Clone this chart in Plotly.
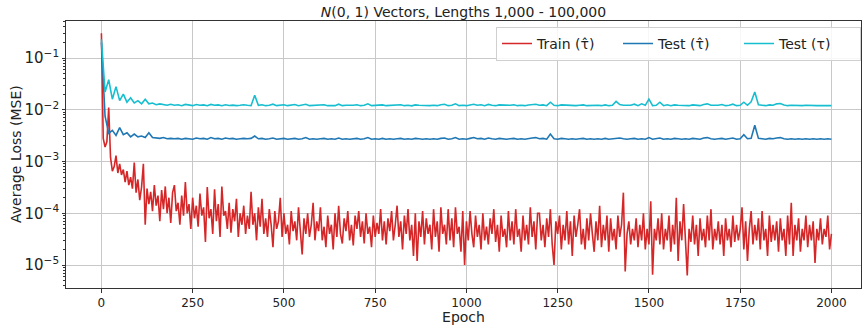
import plotly.graph_objects as go

# ---------------- data ----------------
train_epochs = list(range(0, 2001, 5))
train_loss = [
    3.0e-1, 2.8e-3, 1.9e-3, 2.4e-3, 1.1e-2, 1.2e-3, 6.5e-4, 8e-4, 1.3e-3, 6e-4,
    9e-4, 5.5e-4, 7e-4, 4e-4, 6.5e-4, 3.5e-4, 5e-4, 3e-4, 9.5e-4, 2.5e-4,
    4.5e-4, 1.8e-4, 3.2e-4, 9e-4, 6e-5, 3e-4, 1.5e-4, 2.6e-4, 1.1e-4, 3.5e-4,
    1.4e-4, 2.2e-4, 7e-5, 2.8e-4, 1.2e-4, 3.3e-4, 1.0e-4, 2.0e-4, 6.5e-5, 2.5e-4,
    3.5e-4, 1.1e-4, 1.6e-4, 6e-5, 2.2e-4, 9e-5, 4e-4, 1.0e-4, 1.5e-4, 5e-5,
    2.0e-4, 8e-5, 1.4e-4, 5.5e-5, 2.4e-4, 9e-5, 1.3e-4, 2.8e-5, 3.2e-4, 8e-5,
    1.2e-4, 4e-5, 2.9e-4, 7e-5, 1.5e-4, 3.5e-5, 3.3e-4, 9e-5, 1.1e-4, 5e-5,
    1.6e-4, 4.2e-5, 1.2e-4, 7e-5, 1.9e-4, 3.5e-5, 1.0e-4, 6e-5, 1.4e-4, 4e-5,
    9e-5, 5e-5, 2.6e-4, 6e-5, 1.0e-4, 3.0e-5, 1.3e-4, 5.5e-5, 1.9e-4, 4e-5,
    8e-5, 3.5e-5, 1.2e-4, 6e-5, 2.2e-5, 1.1e-4, 5e-5, 7e-5, 2.0e-4, 3.5e-5,
    1.0e-4, 4e-5, 6e-5, 2.5e-5, 1.1e-4, 4.5e-5, 7e-5, 3e-5, 1.3e-4, 5e-5,
    1.6e-5, 8e-5, 4e-5, 1.0e-4, 3.5e-5, 6e-5, 1.6e-4, 3e-5, 7e-5, 4.5e-5,
    1.3e-4, 3e-5, 5.5e-5, 2.2e-5, 9e-5, 4e-5, 6e-5, 2.0e-5, 1.0e-4, 3.5e-5,
    1.4e-4, 4e-5, 2.6e-5, 8e-5, 4.5e-5, 1.1e-4, 3e-5, 6e-5, 2.4e-5, 9e-5,
    5e-5, 1.1e-4, 3.5e-5, 7e-5, 2.6e-5, 1.0e-4, 4e-5, 5.5e-5, 2.2e-5, 9e-5,
    3.5e-5, 6.5e-5, 4e-5, 1.2e-4, 3e-5, 7e-5, 2.5e-5, 8e-5, 4.5e-5, 1.1e-4,
    3e-5, 6e-5, 1.4e-4, 3.5e-5, 7e-5, 2e-5, 9e-5, 4e-5, 1.2e-4, 3e-5,
    6e-5, 1.5e-5, 1.0e-4, 1.2e-5, 7e-5, 3.5e-5, 1.1e-4, 2.5e-5, 8e-5, 4e-5,
    6e-5, 2.0e-5, 1.2e-4, 3.5e-5, 7e-5, 1.8e-5, 1.3e-4, 4e-5, 6e-5, 2.5e-5,
    1.2e-4, 3e-5, 8e-5, 2.2e-5, 1.3e-4, 4e-5, 5.5e-5, 1.8e-5, 1.1e-4, 1.0e-5,
    7e-5, 3e-5, 1.1e-4, 4e-5, 2.2e-5, 9e-5, 3.5e-5, 6e-5, 2.0e-5, 1.0e-4,
    3e-5, 5.5e-5, 2.5e-5, 8e-5, 4e-5, 1.2e-4, 2.8e-5, 6e-5, 1.8e-5, 9e-5,
    3.5e-5, 5e-5, 2.2e-5, 1.1e-4, 3e-5, 7e-5, 2.5e-5, 1.2e-4, 3.5e-5, 5e-5,
    1.8e-5, 9e-5, 3e-5, 6e-5, 2.5e-5, 1.3e-4, 3.5e-5, 7e-5, 2.0e-5, 1.0e-4,
    1.0e-4, 3e-5, 6e-5, 2.2e-5, 8e-5, 3.5e-5, 1.2e-4, 2.5e-5, 1.0e-5, 7e-5,
    4e-5, 9e-5, 2.0e-5, 6e-5, 3e-5, 1.1e-4, 2.5e-5, 7e-5, 1.5e-5, 9e-5,
    3.5e-5, 6e-5, 1.2e-4, 2.5e-5, 5e-5, 2.0e-5, 8e-5, 3e-5, 1.0e-4, 4e-5,
    1.8e-5, 7e-5, 3e-5, 1.4e-4, 2.2e-5, 6e-5, 3e-5, 9e-5, 1.8e-5, 8e-5,
    3e-5, 5e-5, 2.0e-5, 9e-5, 3.5e-5, 6e-5, 2.5e-4, 7.5e-6, 4e-5, 7e-5,
    2.5e-5, 5e-5, 3e-5, 8e-5, 2.2e-5, 6e-5, 3e-5, 1.0e-4, 2e-5, 5e-5,
    2.5e-5, 1.7e-4, 6.5e-6, 5e-5, 3e-5, 8e-5, 2.5e-5, 1.0e-4, 2.0e-5, 5e-5,
    3e-5, 9e-5, 1.8e-5, 6e-5, 2.5e-5, 2.0e-4, 1.2e-5, 7e-5, 3e-5, 1.5e-4,
    4e-5, 6.3e-6, 5e-5, 2.8e-5, 9e-5, 2.5e-5, 6e-5, 1.5e-5, 8e-5, 3e-5,
    5e-5, 2.2e-5, 9e-5, 3e-5, 1.2e-4, 2.0e-5, 5e-5, 3e-5, 7e-5, 2.5e-5,
    6e-5, 1.5e-5, 8e-5, 3e-5, 5e-5, 2.2e-5, 9e-5, 2.8e-5, 6e-5, 3e-5,
    5e-5, 1.3e-4, 2.0e-5, 7e-5, 1.2e-5, 5e-5, 1.1e-4, 2.5e-5, 6e-5, 3e-5,
    8e-5, 2.0e-5, 1.1e-4, 3e-5, 5e-5, 1.5e-5, 9e-5, 2.8e-5, 6e-5, 3e-5,
    7e-5, 1.8e-5, 8e-5, 3e-5, 5e-5, 1.5e-5, 9e-5, 2.5e-5, 1.6e-4, 1.5e-5,
    6e-5, 3e-5, 8e-5, 1.8e-5, 5e-5, 3e-5, 9e-5, 2.2e-5, 6e-5, 3e-5,
    7e-5, 1.1e-5, 5e-5, 3e-5, 8e-5, 2.5e-5, 5e-5, 3.5e-5, 9e-5, 2.0e-5,
    4e-5,
]

test_epochs = list(range(0, 2001, 10))
test_hat_loss = [
    2.0e-1, 7.5e-3, 3.5e-3, 4.0e-3, 3.2e-3, 4.5e-3, 3.3e-3, 3.6e-3, 3.0e-3, 3.4e-3,
    3.0e-3, 3.1e-3, 2.9e-3, 3.6e-3, 2.9e-3, 2.85e-3, 2.8e-3, 2.9e-3, 2.75e-3, 2.8e-3,
    2.75e-3, 2.8e-3, 2.7e-3, 2.8e-3, 2.75e-3, 2.7e-3, 2.85e-3, 2.75e-3, 2.8e-3, 2.7e-3,
    2.9e-3, 2.75e-3, 2.8e-3, 2.7e-3, 2.85e-3, 2.75e-3, 2.8e-3, 2.7e-3, 2.75e-3, 2.8e-3,
    2.75e-3, 2.8e-3, 3.1e-3, 2.75e-3, 2.8e-3, 2.7e-3, 2.75e-3, 2.85e-3, 2.7e-3, 2.75e-3,
    2.8e-3, 2.7e-3, 2.75e-3, 2.8e-3, 2.7e-3, 2.75e-3, 2.9e-3, 2.7e-3, 2.75e-3, 2.7e-3,
    2.75e-3, 2.8e-3, 2.7e-3, 2.75e-3, 2.7e-3, 2.85e-3, 2.7e-3, 2.75e-3, 2.7e-3, 2.75e-3,
    2.8e-3, 2.7e-3, 2.75e-3, 2.9e-3, 2.7e-3, 2.75e-3, 2.7e-3, 2.8e-3, 2.7e-3, 2.75e-3,
    2.7e-3, 2.75e-3, 2.8e-3, 2.7e-3, 2.75e-3, 2.7e-3, 2.8e-3, 2.75e-3, 2.7e-3, 2.75e-3,
    2.7e-3, 2.75e-3, 2.7e-3, 2.8e-3, 2.85e-3, 2.7e-3, 2.75e-3, 2.9e-3, 2.7e-3, 2.75e-3,
    2.7e-3, 2.8e-3, 2.9e-3, 2.75e-3, 2.8e-3, 2.7e-3, 2.85e-3, 2.75e-3, 2.7e-3, 2.8e-3,
    2.75e-3, 2.7e-3, 2.75e-3, 2.8e-3, 2.7e-3, 2.75e-3, 2.7e-3, 2.8e-3, 2.85e-3, 2.9e-3,
    2.75e-3, 2.8e-3, 2.7e-3, 3.4e-3, 2.75e-3, 2.7e-3, 2.8e-3, 2.75e-3, 2.7e-3, 2.75e-3,
    2.7e-3, 2.75e-3, 2.8e-3, 2.7e-3, 2.75e-3, 2.7e-3, 2.75e-3, 2.7e-3, 2.8e-3, 2.7e-3,
    2.75e-3, 2.8e-3, 2.85e-3, 2.75e-3, 2.7e-3, 2.75e-3, 2.8e-3, 2.7e-3, 2.75e-3, 2.7e-3,
    2.9e-3, 2.7e-3, 2.75e-3, 2.85e-3, 2.7e-3, 2.75e-3, 2.7e-3, 2.8e-3, 2.75e-3, 2.7e-3,
    2.75e-3, 2.7e-3, 2.8e-3, 2.75e-3, 2.7e-3, 2.85e-3, 2.9e-3, 2.75e-3, 2.7e-3, 2.75e-3,
    2.8e-3, 2.7e-3, 2.75e-3, 2.85e-3, 2.7e-3, 2.75e-3, 3.3e-3, 2.75e-3, 2.8e-3, 5.0e-3,
    2.8e-3, 2.75e-3, 2.7e-3, 2.8e-3, 2.75e-3, 2.85e-3, 2.9e-3, 2.75e-3, 2.7e-3, 2.75e-3,
    2.7e-3, 2.75e-3, 2.7e-3, 2.75e-3, 2.7e-3, 2.75e-3, 2.7e-3, 2.75e-3, 2.7e-3, 2.75e-3,
    2.7e-3,
]
test_loss = [
    2.3e-1, 2.2e-2, 3.8e-2, 1.6e-2, 2.8e-2, 1.5e-2, 2.0e-2, 1.4e-2, 1.7e-2, 1.35e-2,
    1.5e-2, 1.3e-2, 1.6e-2, 1.3e-2, 1.35e-2, 1.25e-2, 1.3e-2, 1.25e-2, 1.22e-2, 1.28e-2,
    1.22e-2, 1.25e-2, 1.2e-2, 1.27e-2, 1.22e-2, 1.2e-2, 1.26e-2, 1.22e-2, 1.24e-2, 1.2e-2,
    1.27e-2, 1.22e-2, 1.24e-2, 1.2e-2, 1.25e-2, 1.21e-2, 1.23e-2, 1.2e-2, 1.22e-2, 1.25e-2,
    1.22e-2, 1.2e-2, 1.9e-2, 1.22e-2, 1.25e-2, 1.2e-2, 1.22e-2, 1.28e-2, 1.2e-2, 1.22e-2,
    1.25e-2, 1.2e-2, 1.22e-2, 1.26e-2, 1.2e-2, 1.22e-2, 1.28e-2, 1.2e-2, 1.22e-2, 1.2e-2,
    1.22e-2, 1.25e-2, 1.2e-2, 1.22e-2, 1.2e-2, 1.28e-2, 1.2e-2, 1.22e-2, 1.2e-2, 1.22e-2,
    1.25e-2, 1.2e-2, 1.22e-2, 1.3e-2, 1.2e-2, 1.22e-2, 1.2e-2, 1.24e-2, 1.2e-2, 1.22e-2,
    1.2e-2, 1.22e-2, 1.25e-2, 1.2e-2, 1.22e-2, 1.19e-2, 1.24e-2, 1.22e-2, 1.2e-2, 1.22e-2,
    1.2e-2, 1.22e-2, 1.2e-2, 1.25e-2, 1.28e-2, 1.2e-2, 1.22e-2, 1.3e-2, 1.2e-2, 1.22e-2,
    1.2e-2, 1.24e-2, 1.28e-2, 1.22e-2, 1.25e-2, 1.2e-2, 1.27e-2, 1.22e-2, 1.2e-2, 1.24e-2,
    1.22e-2, 1.2e-2, 1.22e-2, 1.25e-2, 1.2e-2, 1.22e-2, 1.2e-2, 1.24e-2, 1.26e-2, 1.28e-2,
    1.22e-2, 1.24e-2, 1.2e-2, 1.4e-2, 1.22e-2, 1.2e-2, 1.24e-2, 1.22e-2, 1.2e-2, 1.22e-2,
    1.2e-2, 1.22e-2, 1.24e-2, 1.2e-2, 1.22e-2, 1.2e-2, 1.22e-2, 1.2e-2, 1.24e-2, 1.2e-2,
    1.22e-2, 1.45e-2, 1.26e-2, 1.22e-2, 1.2e-2, 1.22e-2, 1.28e-2, 1.2e-2, 1.3e-2, 1.22e-2,
    1.6e-2, 1.2e-2, 1.22e-2, 1.4e-2, 1.2e-2, 1.25e-2, 1.2e-2, 1.24e-2, 1.22e-2, 1.2e-2,
    1.22e-2, 1.2e-2, 1.24e-2, 1.22e-2, 1.2e-2, 1.26e-2, 1.3e-2, 1.22e-2, 1.2e-2, 1.22e-2,
    1.26e-2, 1.2e-2, 1.22e-2, 1.28e-2, 1.2e-2, 1.22e-2, 1.4e-2, 1.22e-2, 1.42e-2, 2.2e-2,
    1.25e-2, 1.22e-2, 1.2e-2, 1.24e-2, 1.22e-2, 1.3e-2, 1.32e-2, 1.24e-2, 1.2e-2, 1.22e-2,
    1.2e-2, 1.22e-2, 1.2e-2, 1.22e-2, 1.2e-2, 1.22e-2, 1.2e-2, 1.21e-2, 1.2e-2, 1.2e-2,
    1.2e-2,
]

series_names = ["Train (τ̂)", "Test (τ̂)", "Test (τ)"]
series_colors = ["#d62728", "#1f77b4", "#17becf"]
x_tick_vals = [0, 250, 500, 750, 1000, 1250, 1500, 1750, 2000]

# ---------------- figure ----------------
fig = go.Figure()
for xs, ys, name, color in [
    (train_epochs, train_loss, series_names[0], series_colors[0]),
    (test_epochs, test_hat_loss, series_names[1], series_colors[1]),
    (test_epochs, test_loss, series_names[2], series_colors[2]),
]:
    fig.add_trace(go.Scatter(x=xs, y=ys, mode="lines", name=name,
                             line=dict(color=color, width=1.6)))

font_family = "DejaVu Sans"
text_color = "#222222"
axis_common = dict(
    showline=True, linecolor="#333333", linewidth=1, mirror=True,
    showgrid=True, gridcolor="#c8c8c8", gridwidth=1,
    ticks="outside", ticklen=3.5, tickcolor="#333333",
    tickfont=dict(family=font_family, size=12, color=text_color),
    zeroline=False, automargin=False,
)

fig.update_layout(
    width=862, height=325,
    margin=dict(l=66, r=1, t=21, b=37),
    paper_bgcolor="white", plot_bgcolor="white",
    font=dict(family=font_family, color=text_color),
    title=dict(text="<i>N</i>(0, 1) Vectors, Lengths 1,000 - 100,000",
               x=0.5, xanchor="center", y=0.962, yanchor="middle",
               xref="paper",
               font=dict(family=font_family, size=14, color=text_color)),
    showlegend=True,
    legend=dict(orientation="h", x=1.0, xanchor="right", y=0.978, yanchor="top",
                bgcolor="rgba(255,255,255,0.85)", bordercolor="#d0d0d0", borderwidth=1,
                font=dict(family=font_family, size=14, color=text_color),
                itemwidth=30, entrywidth=76, traceorder="normal"),
    annotations=[dict(text="Average Loss (MSE)", textangle=-90,
                      xref="paper", yref="paper", x=-0.0635, y=0.5,
                      xanchor="center", yanchor="middle", showarrow=False,
                      font=dict(family=font_family, size=14, color=text_color))],
)

fig.update_xaxes(
    range=[-97, 2081], tickmode="array", tickvals=x_tick_vals,
    ticktext=[str(v) for v in x_tick_vals],
    title=dict(text="Epoch", font=dict(family=font_family, size=14, color=text_color),
               standoff=0),
    **axis_common,
)
fig.update_yaxes(
    type="log", range=[-5.444, -0.285], dtick=1, exponentformat="power",
    showexponent="all",
    minor=dict(ticks="outside", ticklen=2, tickcolor="#333333", showgrid=False),
    **axis_common,
)

fig.write_html("out.html", config={"displayModeBar": False},
               post_script="document.body.style.margin='0';")
